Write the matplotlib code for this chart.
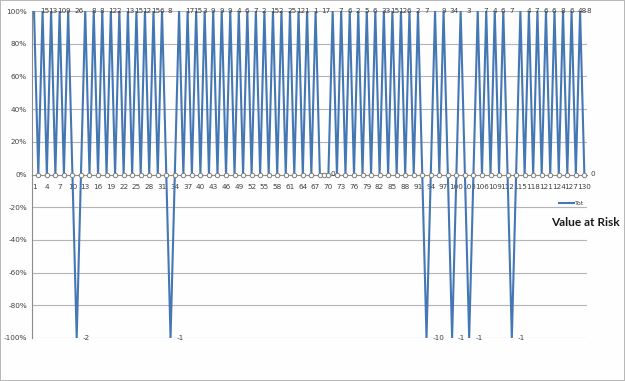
"""Value at Risk chart: sign of each period's result (+100% / 0 / -100%),
with the raw count written next to every point, Excel-2007 look."""

import matplotlib
matplotlib.use("Agg")  # no display
import matplotlib.pyplot as plt  # noqa: E402

# category numbers on the x axis
categories = list(range(1, 131))

# series "Tot" in percent, ten categories per row
values = [
    100, 0, 100, 0, 100, 0, 100, 0, 100, 0,
    -100, 0, 100, 0, 100, 0, 100, 0, 100, 0,
    100, 0, 100, 0, 100, 0, 100, 0, 100, 0,
    100, 0, -100, 0, 100, 0, 100, 0, 100, 0,
    100, 0, 100, 0, 100, 0, 100, 0, 100, 0,
    100, 0, 100, 0, 100, 0, 100, 0, 100, 0,
    100, 0, 100, 0, 100, 0, 100, 0, 0, 0,
    100, 0, 100, 0, 100, 0, 100, 0, 100, 0,
    100, 0, 100, 0, 100, 0, 100, 0, 100, 0,
    100, 0, -100, 0, 100, 0, 100, 0, -100, 0,
    100, 0, -100, 0, 100, 0, 100, 0, 100, 0,
    100, 0, -100, 0, 100, 0, 100, 0, 100, 0,
    100, 0, 100, 0, 100, 0, 100, 0, 100, 0,
]

# data labels shown to the right of each point ("" = no label)
point_labels = [
    "15", "", "13", "", "10", "", "9", "", "26", "",
    "-2", "", "8", "", "8", "", "12", "", "2", "",
    "13", "", "15", "", "12", "", "15", "", "6", "",
    "8", "", "-1", "", "17", "", "15", "", "3", "",
    "9", "", "9", "", "9", "", "4", "", "6", "",
    "7", "", "2", "", "15", "", "2", "", "25", "",
    "12", "", "1", "", "1", "", "17", "", "0", "",
    "7", "", "6", "", "2", "", "5", "", "6", "",
    "33", "", "15", "", "12", "", "6", "", "2", "",
    "7", "", "-10", "", "9", "", "34", "", "-1", "",
    "3", "", "-1", "", "7", "", "4", "", "6", "",
    "7", "", "-1", "", "4", "", "7", "", "6", "",
    "6", "", "8", "", "6", "", "48", "", "8", "0",
]

y_ticks = [-100, -80, -60, -40, -20, 0, 20, 40, 60, 80, 100]
x_ticks = list(range(1, 131, 3))

BLUE = "#4577b5"
GRID = "#b4b4b4"
TEXT = "#404040"

fig = plt.figure(figsize=(6.25, 3.81), dpi=100,
                 facecolor="#fdfefd", edgecolor="#b8b8b8", linewidth=1.2)
ax = fig.add_axes([31.9 / 625, 1 - 338 / 381, (586.5 - 31.9) / 625, (338 - 11) / 381])
ax.set_facecolor("#fdfefd")

for y in y_ticks:
    ax.axhline(y, color=GRID, lw=0.8, zorder=1)

line, = ax.plot(categories, values, color=BLUE, lw=1.5, zorder=3, label="Tot")

zero_x = [c for c, v in zip(categories, values) if v == 0]
zero_y = [v for v in values if v == 0]
ax.plot(zero_x, zero_y, "o", ms=3.2, mfc="white", mec="#7f7f7f", mew=0.7, zorder=4)

for c, v, t in zip(categories, values, point_labels):
    if t:
        ax.annotate(t, (c, v), xytext=(4.3, 0), textcoords="offset points",
                    ha="left", va="center", fontsize=5.2, color=TEXT,
                    annotation_clip=False, zorder=5)

ax.set_xlim(0.5, 130.5)
ax.set_ylim(-100, 100)
ax.set_xticks(x_ticks)
ax.set_xticklabels([str(x) for x in x_ticks])
ax.set_yticks(y_ticks)
ax.set_yticklabels([f"{y}%" for y in y_ticks])
ax.tick_params(axis="x", length=0, pad=6.5, labelsize=5.2, labelcolor=TEXT)
ax.tick_params(axis="y", length=0, pad=3.5, labelsize=5.2, labelcolor=TEXT)

for side in ("top", "right"):
    ax.spines[side].set_visible(False)
ax.spines["bottom"].set_position(("data", 0))
ax.spines["bottom"].set_color("#8c8c8c")
ax.spines["left"].set_color("#8c8c8c")
ax.spines["bottom"].set_linewidth(0.8)
ax.spines["left"].set_linewidth(0.8)

fig.legend(handles=[line], labels=["Tot"], loc="center left",
           bbox_to_anchor=(559 / 625, 1 - 203 / 381), frameon=False,
           fontsize=4.5, handlelength=2.4, handletextpad=0.2,
           borderpad=0, borderaxespad=0, labelcolor=TEXT)

fig.text(585 / 625, 1 - 222 / 381, "Value at Risk", ha="center", va="center",
         fontsize=8.6, fontweight="bold", family="Lato", color="#1a1a1a")

fig.savefig("out.png", dpi=100)
